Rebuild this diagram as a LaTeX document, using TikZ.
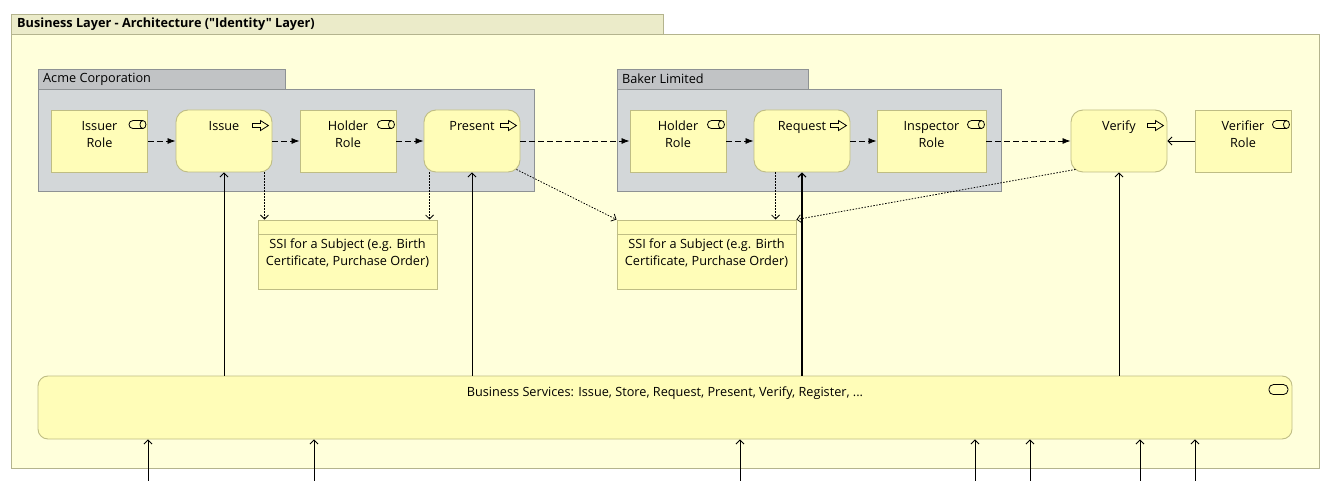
\documentclass[tikz,border=0pt]{standalone}
\usepackage{fontspec}
\setmainfont{Open Sans}[Ligatures=TeXOff]
\usetikzlibrary{arrows.meta}

\definecolor{layerfill}{HTML}{FFFFDB}
\definecolor{layertab}{HTML}{EBEBC9}
\definecolor{layerline}{HTML}{B4B48E}
\definecolor{elemfill}{HTML}{FFFDB8}
\definecolor{elemline}{HTML}{BFBD84}
\definecolor{grpfill}{HTML}{D3D7D9}
\definecolor{grptab}{HTML}{C1C3C5}
\definecolor{grpline}{HTML}{8E9294}

\tikzset{
  elem/.style={draw=elemline,fill=elemfill,line width=.9pt,minimum width=96pt,minimum height=62pt,inner sep=0pt},
  role/.style={elem},
  proc/.style={elem,rounded corners=12pt},
  lbl/.style={anchor=north,align=center,inner sep=0pt,yshift=-11.5pt,font=\fontsize{12.7}{17}\selectfont},
  flow/.style={line width=.8pt,dash pattern=on 6pt off 3pt,-{Latex[length=8pt,width=6pt]}},
  access/.style={line width=.8pt,dash pattern=on 1.5pt off 1.5pt,-{Straight Barb[length=4pt,width=8pt]}},
  serve/.style={line width=.8pt,-{Straight Barb[length=4pt,width=8pt]}},
  roleicon/.pic={\draw[line width=.8pt] (5pt,4pt) -- (-5pt,4pt) arc[start angle=90,end angle=270,radius=4pt] -- (5pt,-4pt);
    \draw[line width=.8pt] (5pt,0pt) ellipse[x radius=3pt,y radius=4pt];},
  procicon/.pic={\draw[line width=.8pt] (-8pt,-2pt) -- (0pt,-2pt) -- (0pt,-5pt) -- (8pt,0pt) -- (0pt,5pt) -- (0pt,2pt) -- (-8pt,2pt) -- cycle;},
  svcicon/.pic={\draw[line width=.8pt,rounded corners=4.5pt] (-9.5pt,-5pt) rectangle (9.5pt,5pt);}
}

\begin{document}
\begin{tikzpicture}[x=1pt,y=-1pt,font=\fontsize{12.7}{17}\selectfont]
\useasboundingbox[fill=white] (0,0) rectangle (1330,481);
% layer
\draw[fill=layertab,draw=layerline,line width=.9pt] (11,14) rectangle (663,34);
\draw[fill=layerfill,draw=layerline,line width=.9pt] (11,34) rectangle (1319,468);
\node[anchor=west,inner sep=0pt,font=\fontsize{12.7}{17}\selectfont\bfseries] at (17,24) {Business Layer - Architecture ("Identity" Layer)};
% groups
\draw[fill=grptab,draw=grpline,line width=.9pt] (38,69) rectangle (285,89);
\draw[fill=grpfill,draw=grpline,line width=.9pt] (38,89) rectangle (534,191);
\node[anchor=west,inner sep=0pt] at (43,79) {Acme Corporation};
\draw[fill=grptab,draw=grpline,line width=.9pt] (617,69) rectangle (808,89);
\draw[fill=grpfill,draw=grpline,line width=.9pt] (617,89) rectangle (1001,191);
\node[anchor=west,inner sep=0pt] at (622,79) {Baker Limited};
% elements
\node[role,label={[lbl]north:Issuer\\Role}] (issuer) at (99.5,141) {};
\node[proc,label={[lbl]north:Issue}] (issue) at (224,141) {};
\node[role,label={[lbl]north:Holder\\Role}] (holderA) at (348,141) {};
\node[proc,label={[lbl]north:Present}] (present) at (472,141) {};
\node[role,label={[lbl]north:Holder\\Role}] (holderB) at (678,141) {};
\node[proc,label={[lbl]north:Request}] (request) at (802,141) {};
\node[role,minimum width=109pt,label={[lbl]north:Inspector\\Role}] (inspector) at (931.5,141) {};
\node[proc,label={[lbl]north:Verify}] (verify) at (1119,141) {};
\node[role,label={[lbl]north:Verifier\\Role}] (verifier) at (1243,141) {};
\foreach \n in {issuer,holderA,holderB,inspector,verifier}
  \pic at ([shift={(-10pt,-15pt)}]\n.north east) {roleicon};
\foreach \n in {issue,present,request,verify}
  \pic at ([shift={(-12pt,-16pt)}]\n.north east) {procicon};
% objects
\node[elem,minimum width=179pt,minimum height=69pt,label={[lbl,yshift=-8pt]north:SSI for a Subject (e.g. Birth\\Certificate, Purchase Order)}] (ssiA) at (347.5,254.5) {};
\node[elem,minimum width=179pt,minimum height=69pt,label={[lbl,yshift=-8pt]north:SSI for a Subject (e.g. Birth\\Certificate, Purchase Order)}] (ssiB) at (706.5,254.5) {};
\draw[elemline,line width=.9pt] ([yshift=-15pt]ssiA.north west) -- ([yshift=-15pt]ssiA.north east);
\draw[elemline,line width=.9pt] ([yshift=-15pt]ssiB.north west) -- ([yshift=-15pt]ssiB.north east);
% services
\node[elem,rounded corners=10pt,minimum width=1254pt,minimum height=63pt,label={[lbl,yshift=0pt]north:Business Services: Issue, Store, Request, Present, Verify, Register, ...}] (svc) at (665,407.5) {};
\pic at ([shift={(-14pt,-14pt)}]svc.north east) {svcicon};
% flows
\foreach \a/\b in {issuer/issue,issue/holderA,holderA/present,present/holderB,holderB/request,request/inspector,inspector/verify}
  \draw[flow] (\a) -- (\b);
\draw[serve] (verifier) -- (verify);
% serving
\foreach \n in {issue,present,verify}
  \draw[serve] (svc.north -| \n) -- (\n);
\draw[serve,line width=1.1pt] (svc.north -| request) -- (request);
\foreach \x in {148,314,740,975,1030,1140,1195} {
  \coordinate (in\x) at (\x,481);
  \draw[serve] (in\x) -- (in\x |- svc.south);
}
% access
\coordinate (issueout) at ([xshift=-8pt]issue.south east);
\coordinate (presentout) at ([xshift=6pt]present.south west);
\coordinate (requestout) at ([xshift=22pt]request.south west);
\coordinate (presentdiag) at ([shift={(-4pt,3pt)}]present.south east);
\coordinate (verifydiag) at ([shift={(5pt,3pt)}]verify.south west);
\draw[access] (issueout) -- (issueout |- ssiA.north);
\draw[access] (presentout) -- (presentout |- ssiA.north);
\draw[access] (requestout) -- (requestout |- ssiB.north);
\draw[access] (presentdiag) -- (ssiB.north west);
\draw[access] (verifydiag) -- (ssiB.north east);
\end{tikzpicture}
\end{document}
